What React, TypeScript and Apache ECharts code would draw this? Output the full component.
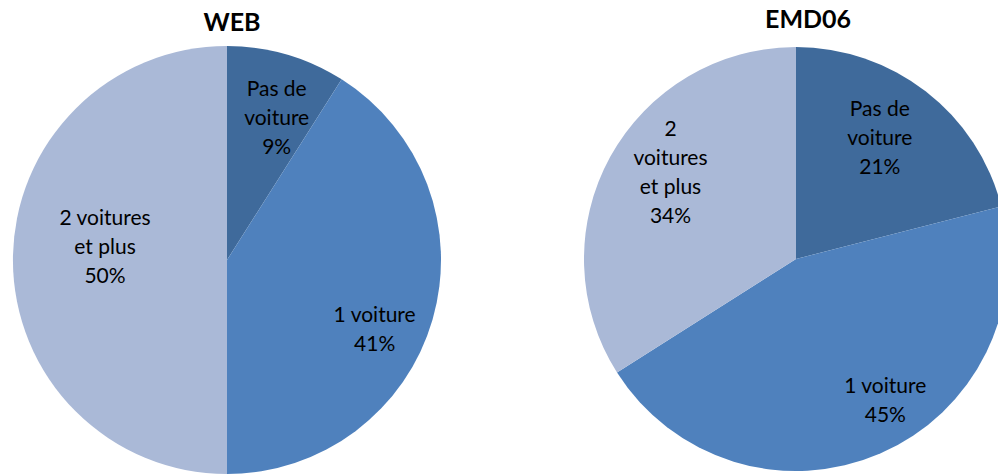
import React, { useEffect, useRef } from "react";
import * as echarts from "echarts";

const webCategories = ["Pas de\nvoiture", "1 voiture", "2 voitures\net plus"];
const webValues = [9, 41, 50];
const emdCategories = ["Pas de\nvoiture", "1 voiture", "2\nvoitures\net plus"];
const emdValues = [21, 45, 34];
const titles = ["WEB", "EMD06"];
const colors = ["#3F6A9B", "#4F81BD", "#AAB9D7"];

// label offsets (layout only)
const webOffsets = [[19, -38], [42, 37], [-12, -15]];
const emdOffsets = [[17, -36], [46, 40], [-30, -35]];

export default function App() {
  const ref = useRef<HTMLDivElement>(null);
  useEffect(() => {
    if (!ref.current) return;
    const chart = echarts.init(ref.current, null, { renderer: "svg" });
    const labelStyle = {
      show: true,
      position: "inside",
      formatter: "{b}\n{c}%",
      color: "#000",
      fontFamily: "Lato",
      fontSize: 21,
      lineHeight: 29,
    };
    const mk = (cats: string[], vals: number[], offs: number[][]) =>
      cats.map((c, i) => ({
        name: c,
        value: vals[i],
        itemStyle: { color: colors[i] },
        label: { offset: offs[i] },
      }));
    chart.setOption({
      animation: false,
      title: [
        {
          text: titles[0],
          left: 227,
          top: 3,
          textAlign: "center",
          textStyle: { fontFamily: "Lato", fontWeight: "bold", fontSize: 25, color: "#000" },
        },
        {
          text: titles[1],
          left: 803,
          top: 0,
          textAlign: "center",
          textStyle: { fontFamily: "Lato", fontWeight: "bold", fontSize: 25, color: "#000" },
        },
      ],
      series: [
        {
          type: "pie",
          center: [227, 260],
          radius: 214,
          startAngle: 90,
          clockwise: true,
          label: labelStyle,
          labelLine: { show: false },
          emphasis: { disabled: true },
          data: mk(webCategories, webValues, webOffsets),
        },
        {
          type: "pie",
          center: [796, 259],
          radius: 212,
          startAngle: 90,
          clockwise: true,
          label: labelStyle,
          labelLine: { show: false },
          emphasis: { disabled: true },
          data: mk(emdCategories, emdValues, emdOffsets),
        },
      ],
    });
    return () => chart.dispose();
  }, []);
  return (
    <div
      ref={ref}
      style={{ position: "fixed", left: 0, top: 0, width: 998, height: 474, background: "#fff" }}
    />
  );
}
